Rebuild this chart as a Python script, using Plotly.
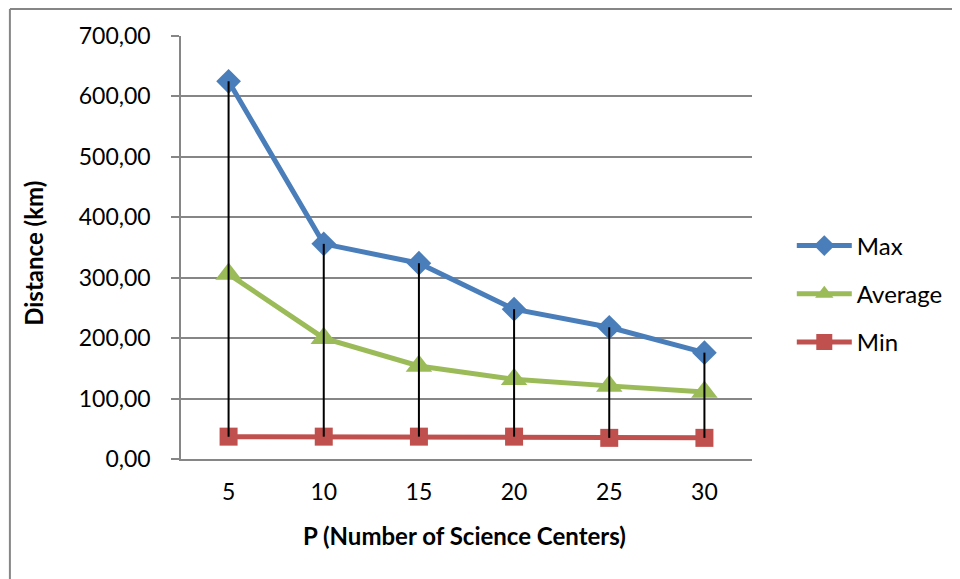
import plotly.graph_objects as go

categories = ["5", "10", "15", "20", "25", "30"]
max_vals = [625, 356, 324, 248, 218, 176]
avg_vals = [306, 200, 154, 132, 121, 111]
min_vals = [37, 37, 37, 37, 35, 35]

FONT = "Lato, 'Open Sans', sans-serif"

# figure is placed at (8,8) by the page's default body margin
W, H = 952, 571
L, T, PW, PH = 173, 28, 574, 423
R, B = W - L - PW, H - T - PH

def px_x(sx):  # screen x -> paper x
    return (sx - 8 - L) / PW

def px_y(sy):  # screen y -> paper y
    return (T + PH - (sy - 8)) / PH

fig = go.Figure()
fig.add_trace(go.Scatter(x=categories, y=max_vals, name="Max", mode="lines+markers",
                         line=dict(color="#4A7EBB", width=5),
                         marker=dict(symbol="diamond", size=19, color="#4A7EBB"),
                         legendgroup="a"))
fig.add_trace(go.Scatter(x=categories, y=avg_vals, name="Average", mode="lines+markers",
                         line=dict(color="#9BBB59", width=5),
                         marker=dict(symbol="triangle-up", size=23, color="#9BBB59"),
                         legendgroup="b"))
fig.add_trace(go.Scatter(x=categories, y=min_vals, name="Min", mode="lines+markers",
                         line=dict(color="#C0504D", width=5),
                         marker=dict(symbol="square", size=18, color="#C0504D"),
                         legendgroup="c"))

# high-low lines
hx, hy = [], []
for c, hi, lo in zip(categories, max_vals, min_vals):
    hx += [c, c, None]
    hy += [hi, lo, None]
fig.add_trace(go.Scatter(x=hx, y=hy, mode="lines", line=dict(color="black", width=2),
                         showlegend=False, hoverinfo="skip"))

fig.update_layout(
    width=W, height=H,
    margin=dict(l=L, r=R, t=T, b=B),
    plot_bgcolor="white", paper_bgcolor="white",
    separators=",.",
    font=dict(family=FONT, size=23, color="black"),
    xaxis=dict(type="category", range=[-0.5, 5.5], showgrid=False,
               showline=True, linecolor="#868686", linewidth=1.5,
               ticks="", tickfont=dict(size=23), ticklabelstandoff=12),
    yaxis=dict(range=[0, 700], dtick=100, tickformat=".2f",
               showgrid=True, gridcolor="#868686", gridwidth=1.5,
               showline=True, linecolor="#868686", linewidth=1.5,
               ticks="outside", ticklen=8, tickcolor="#868686", tickwidth=1.5,
               tickfont=dict(size=23), zeroline=False, ticklabelstandoff=16),
    legend=dict(x=px_x(795), xanchor="left", y=px_y(294), yanchor="middle",
                font=dict(size=24), tracegroupgap=14, itemwidth=55,
                bgcolor="rgba(0,0,0,0)"),
    annotations=[
        dict(text="<b>Distance (km)</b>", xref="paper", yref="paper",
             x=px_x(33), y=px_y(253), xanchor="center", yanchor="middle",
             textangle=-90, showarrow=False, font=dict(size=24)),
        dict(text="<b>P (Number of Science Centers)</b>", xref="paper", yref="paper",
             x=px_x(466), y=px_y(535), xanchor="center", yanchor="middle",
             showarrow=False, font=dict(size=24)),
    ],
    shapes=[
        dict(type="line", xref="paper", yref="paper", x0=px_x(9), x1=px_x(1000),
             y0=px_y(9), y1=px_y(9), line=dict(color="#868686", width=2)),
        dict(type="line", xref="paper", yref="paper", x0=px_x(9), x1=px_x(9),
             y0=px_y(9), y1=px_y(700), line=dict(color="#868686", width=2)),
    ],
)

fig.write_html("out.html")
